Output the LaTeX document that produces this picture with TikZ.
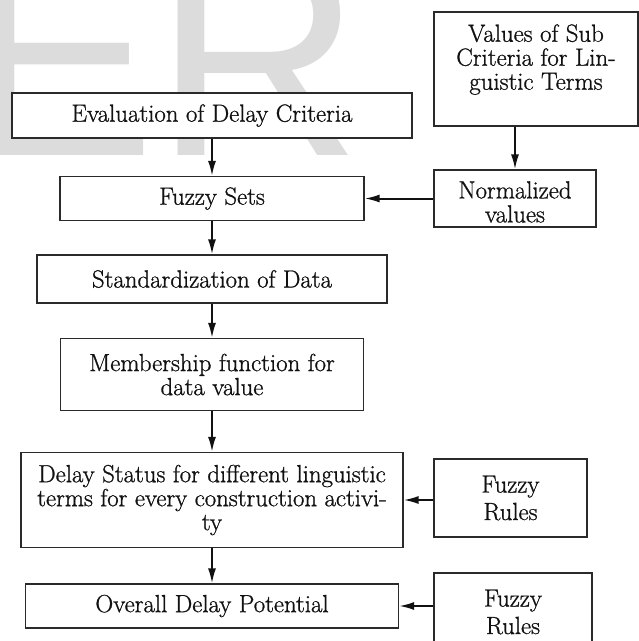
\documentclass[tikz,border=0pt]{standalone}
\usepackage{fontspec}
\newfontfamily\markfont{Liberation Sans}
\newfontfamily\boxfont{lmroman17-regular}[Extension=.otf, FakeBold=0.9]
\usetikzlibrary{arrows.meta}
\definecolor{cInk}{HTML}{111111}
\definecolor{cEdge}{HTML}{2A2A2A}
\definecolor{cMark}{HTML}{DCDCDC}
\tikzset{
  base/.style={rectangle, draw=cEdge, fill=white, line width=1.1pt, align=center,
               text=cInk, font=\boxfont\fontsize{24.8}{24}\selectfont, inner sep=0pt},
  rule/.style={base, font=\boxfont\fontsize{24.8}{27.5}\selectfont, minimum height=78},
  wmark/.style={text=cMark, font=\markfont\fontsize{287}{287}\selectfont, inner sep=0pt},
  main/.style={-{Latex[length=15pt, width=8pt]}, line width=2pt, draw=cInk},
}

\begin{document}
\begin{tikzpicture}[x=1pt, y=-1pt]
  \useasboundingbox (0,0) rectangle (639,641);
  \clip (0,0) rectangle (639,641);

  % ---- watermark behind the flow
  \node[wmark, anchor=base west] (wmE) at (-36,155) {E};
  \node[wmark, anchor=base west] (wmR) at (154,155) {R};

  % ---- main column
  \node[base, minimum width=400, minimum height=45] (eval) at (212,115.5) {Evaluation of Delay Criteria};
  \node[base, minimum width=304, minimum height=44] (fuzzy) at (212,198.5) {Fuzzy Sets};
  \node[base, minimum width=350, minimum height=48] (std) at (212,279) {Standardization of Data};
  \node[base, minimum width=303, minimum height=72] (memb) at (212,374.5) {Membership function for\\ data value};
  \node[base, minimum width=382, minimum height=95] (status) at (212,500) {Delay Status for different linguistic\\ terms for every construction activi-\\ ty};
  \node[base, minimum width=373, minimum height=44] (overall) at (212,606) {Overall Delay Potential};

  % ---- inputs on the right
  \node[base, minimum width=204, minimum height=114, text depth=24pt] (values) at (536,69) {Values of Sub\\ Criteria for Lin-\\ guistic Terms};
  \node[base, minimum width=162, minimum height=57, text height=48pt] (norm) at (515,198.5) {Normalized\\ values};
  \node[rule, minimum width=153] (rules1) at (510.5,498) {Fuzzy\\ Rules};
  \node[rule, minimum width=158] (rules2) at (513,612) {Fuzzy\\ Rules};

  % ---- arrows
  \foreach \a/\b in {eval/fuzzy, fuzzy/std, std/memb, memb/status, status/overall, norm/fuzzy}
    \draw[main] (\a) -- (\b);
  \draw[main] (values.south -| norm.north) -- (norm.north);
  \draw[main] (rules1.west |- status.east) -- (status.east);
  \draw[main] (overall.east -| rules2.west) -- (overall.east);
\end{tikzpicture}
\end{document}
